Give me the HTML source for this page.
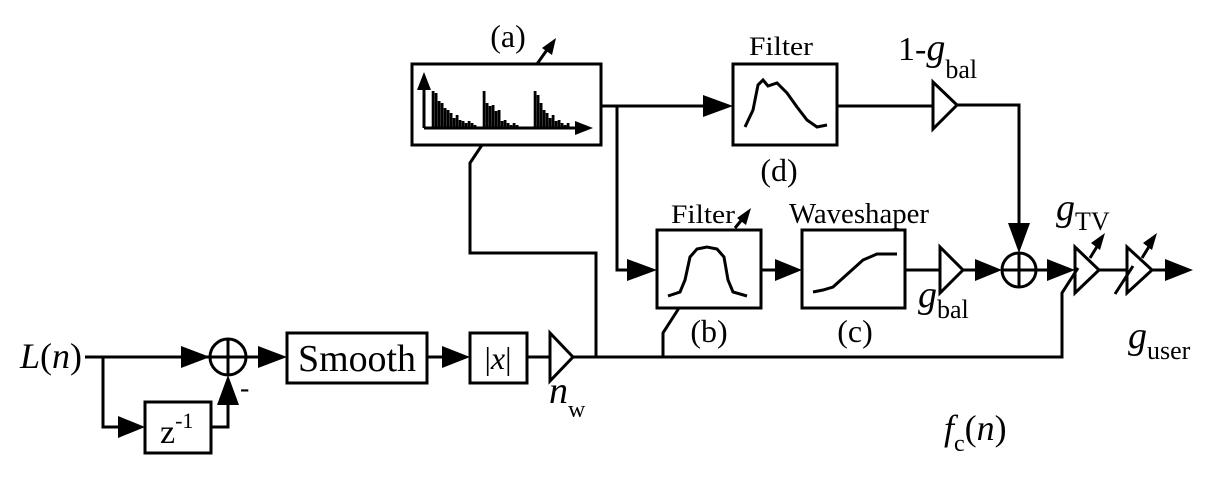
<!DOCTYPE html>
<html><head><meta charset="utf-8">
<style>
html,body{margin:0;padding:0;background:#fff;}
svg{display:block;}
svg text{font-family:"Liberation Serif","DejaVu Serif","Noto Serif CJK SC",serif;fill:#000;}
.it{font-style:italic;}
</style></head>
<body>
<svg id="d" width="1209" height="479" viewBox="0 0 1209 479" xmlns="http://www.w3.org/2000/svg">
<g fill="none" stroke="#000" stroke-width="3" stroke-linejoin="miter">
  <polyline points="85,357 210,357"/>
  <polyline points="103,357 103,427 130,427"/>
  <rect x="145" y="402" width="66" height="51"/>
  <polyline points="211,427 228,427 228,395"/>
  <circle cx="228" cy="357" r="18"/>
  <line x1="210" y1="357" x2="246" y2="357"/><line x1="228" y1="339" x2="228" y2="375"/>
  <line x1="246" y1="357" x2="265" y2="357"/>
  <rect x="287" y="333" width="140" height="50"/>
  <line x1="427" y1="357" x2="448" y2="357"/>
  <rect x="470" y="333" width="57" height="50"/>
  <line x1="527" y1="357" x2="550" y2="357"/>
  <polygon points="550,333 550,381 573,357"/>
  <polyline points="573,357 1062,357 1062,293 1078,268"/>
  <polyline points="596,357 596,253 470,253 470,163 482,145"/>
  <rect x="412" y="64" width="189" height="81"/>
  <line x1="424" y1="128" x2="424" y2="85"/><line x1="424" y1="128" x2="580" y2="128"/>
  <line x1="537" y1="64" x2="549" y2="47"/>
  <line x1="601" y1="106" x2="708" y2="106"/>
  <polyline points="617,106 617,270 632,270"/>
  <rect x="733" y="64" width="104" height="81"/>
  <polyline points="745,127 753,110 758,85 763,80 768,86 777,83 787,93 797,107 807,120 817,127 827,125"/>
  <line x1="837" y1="106" x2="933" y2="106"/>
  <polygon points="933,82 933,129 957,105"/>
  <polyline points="957,105 1019,105 1019,228"/>
  <rect x="657" y="230" width="104" height="78"/>
  <polyline points="668,296 680,292 685,280 690,257 697,249 707,247 717,249 724,257 728,280 733,292 747,296"/>
  <line x1="735" y1="228" x2="744" y2="217"/>
  <polyline points="663,357 663,333 679,308"/>
  <line x1="761" y1="270" x2="780" y2="270"/>
  <rect x="802" y="230" width="103" height="78"/>
  <polyline points="813,292 823,290 833,287 863,260 877,254 897,254"/>
  <line x1="905" y1="270" x2="940" y2="270"/>
  <polygon points="940,247 940,293 963,270"/>
  <line x1="963" y1="270" x2="980" y2="270"/>
  <circle cx="1019" cy="270" r="17"/>
  <line x1="1002" y1="270" x2="1036" y2="270"/><line x1="1019" y1="253" x2="1019" y2="287"/>
  <line x1="1036" y1="270" x2="1052" y2="270"/>
  <polygon points="1075,247 1075,293 1099,270"/>
  <line x1="1090" y1="258" x2="1098" y2="245"/>
  <line x1="1099" y1="270" x2="1127" y2="270"/>
  <polygon points="1127,247 1127,293 1152,270"/>
  <line x1="1115" y1="294" x2="1133" y2="266"/>
  <line x1="1142" y1="258" x2="1150" y2="245"/>
  <line x1="1152" y1="270" x2="1170" y2="270"/>
</g>
<g fill="#000">
  <polygon points="210,357 181,346 181,368"/>
  <polygon points="228,375 217,405 239,405"/>
  <polygon points="145,427 118,416 118,438"/>
  <polygon points="287,357 258,346 258,368"/>
  <polygon points="470,357 442,346 442,368"/>
  <polygon points="733,106 703,95 703,117"/>
  <polygon points="657,270 627,259 627,281"/>
  <polygon points="802,270 775,259 775,281"/>
  <polygon points="1002,270 975,259 975,281"/>
  <polygon points="1019,253 1008,223 1030,223"/>
  <polygon points="1075,270 1047,259 1047,281"/>
  <polygon points="1193,270 1165,259 1165,281"/>
  <polygon points="424,72 417,90 431,90"/>
  <polygon points="593,128 575,121 575,135"/>
  <polygon points="556,38 542,48 552,55"/>
  <polygon points="751,208 737,218 746,225"/>
  <polygon points="1105,233 1091,243 1100,250"/>
  <polygon points="1157,233 1143,243 1152,250"/>
</g>
<g id="bars"></g>
<text x="20" y="368" font-size="36"><tspan class="it">L</tspan>(<tspan class="it">n</tspan>)</text>
<text x="160" y="443" font-size="34">z<tspan font-size="22" dy="-15">-1</tspan></text>
<text x="240" y="397" font-size="28">-</text>
<text x="357" y="371" font-size="38" text-anchor="middle" textLength="118" lengthAdjust="spacingAndGlyphs">Smooth</text>
<text x="498" y="369" font-size="32" text-anchor="middle">|<tspan class="it">x</tspan>|</text>
<text x="549" y="403" font-size="38" class="it">n<tspan font-size="24" font-style="normal" dy="14">w</tspan></text>
<text x="508" y="47" font-size="32" text-anchor="middle">(a)</text>
<text x="781" y="55" font-size="26" text-anchor="middle" textLength="64" lengthAdjust="spacingAndGlyphs">Filter</text>
<text x="779" y="181" font-size="32" text-anchor="middle">(d)</text>
<text x="898" y="60" font-size="34">1-<tspan class="it" font-size="38">g</tspan><tspan font-size="26" dy="18">bal</tspan></text>
<text x="671" y="223" font-size="26" textLength="64" lengthAdjust="spacingAndGlyphs">Filter</text>
<text x="789" y="223" font-size="29" textLength="140" lengthAdjust="spacingAndGlyphs">Waveshaper</text>
<text x="709" y="342" font-size="32" text-anchor="middle">(b)</text>
<text x="855" y="342" font-size="32" text-anchor="middle">(c)</text>
<text x="918" y="307" font-size="38" class="it">g<tspan font-size="26" font-style="normal" dy="11">bal</tspan></text>
<text x="1056" y="220" font-size="38" class="it">g<tspan font-size="26" font-style="normal" dy="10">TV</tspan></text>
<text x="1128" y="348" font-size="38" class="it">g<tspan font-size="26" font-style="normal" dy="11">user</tspan></text>
<text x="944" y="440" font-size="36"><tspan class="it">f</tspan><tspan font-size="24" dy="11">c</tspan><tspan dy="-11">(</tspan><tspan class="it">n</tspan>)</text>
</svg>
<script>
const barHeights = [37,35,27,25,20,18,15,10,13,8,7,5,7,5,3,0,0,37,25,22,23,17,18,7,8,5,3,5,3,0,0,0,0,0,37,33,25,18,15,10,13,7,8,5,3,5];
const barStart = 432, barPitch = 3, baseY = 128;
function xPos(i){ return barStart + i*barPitch; }
function yPos(v){ return baseY - v; }
const g = document.getElementById('bars');
barHeights.forEach((v,i)=>{
  if(v<=0) return;
  const r = document.createElementNS('http://www.w3.org/2000/svg','rect');
  r.setAttribute('x', xPos(i) - 0.3);
  r.setAttribute('y', yPos(v));
  r.setAttribute('width', 2.8);
  r.setAttribute('height', v);
  r.setAttribute('fill', '#000');
  
  
  g.appendChild(r);
});
</script>
</body></html>
